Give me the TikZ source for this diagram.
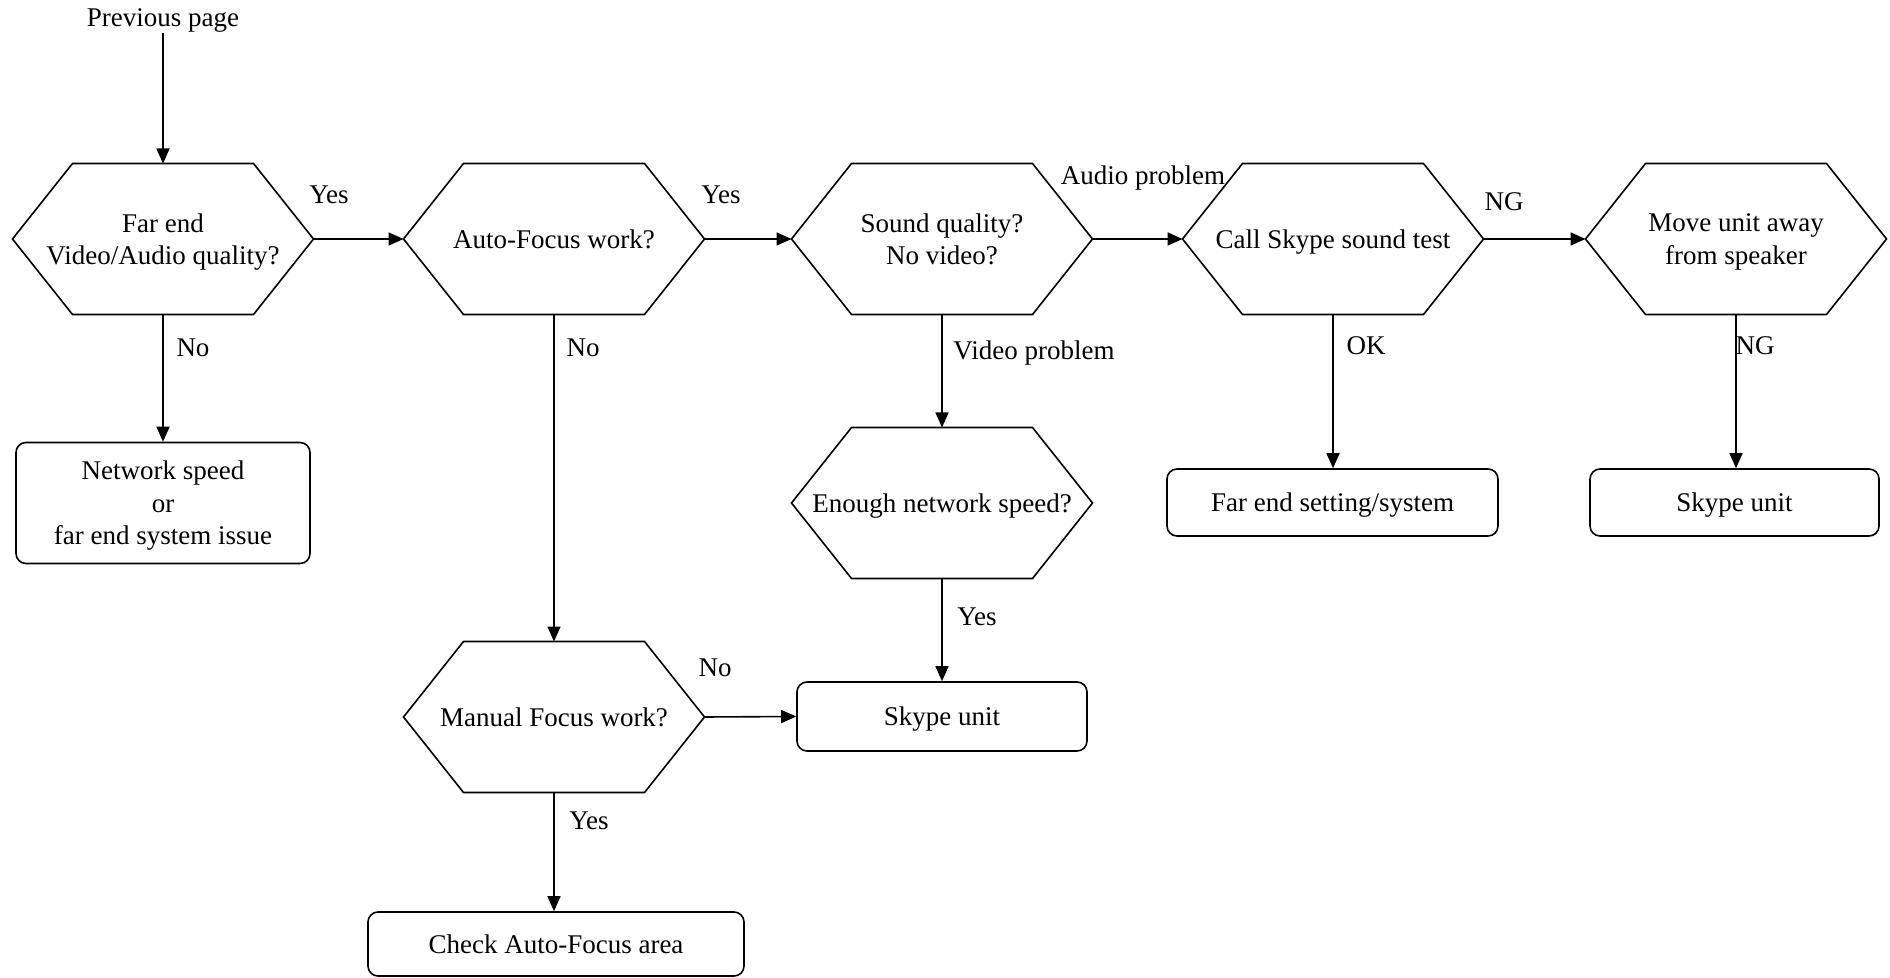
\documentclass[tikz,border=0pt]{standalone}
\usepackage{fontspec}
\setmainfont{Liberation Serif}
\newfontfamily\diagfont{Liberation Serif}
\usetikzlibrary{arrows.meta}
\begin{document}
\begin{tikzpicture}[x=0.5pt,y=-0.5pt,
  every node/.style={font=\diagfont\fontsize{13.5}{16.25}\selectfont, inner sep=0pt, text depth=0pt},
  hexbox/.style={minimum width=150.5pt, minimum height=75.5pt, align=center, outer sep=0pt},
  rbox/.style={draw, rounded corners=5pt, align=center, line width=0.8pt},
  hexline/.style={line width=0.8pt, line join=miter},
  conn/.style={line width=0.8pt, -{Triangle[length=7.5pt,width=6.5pt]}}
]
\useasboundingbox (0,0) rectangle (1890,978);

% decision hexagons
\node[inner sep=3pt] (prev) at (163,18) {Previous page};
\node[hexbox] (h1) at (163,239) {Far end\\Video/Audio quality?};
\node[hexbox] (h2) at (554,239) {Auto-Focus work?};
\node[hexbox] (h3) at (942,239) {Sound quality?\\No video?};
\node[hexbox] (h4) at (1333,239) {Call Skype sound test};
\node[hexbox] (h5) at (1736,239) {Move unit away\\from speaker};
\node[hexbox] (h6) at (942,503) {Enough network speed?};
\node[hexbox] (h7) at (554,717) {Manual Focus work?};

\foreach \n in {h1,h2,h3,h4,h5,h6,h7}
  \draw[hexline] ([xshift=30pt]\n.north west) -- ([xshift=-30pt]\n.north east) -- (\n.east)
    -- ([xshift=-30pt]\n.south east) -- ([xshift=30pt]\n.south west) -- (\n.west) -- cycle;

% result boxes
\node[rbox, minimum width=147pt, minimum height=60.5pt] (r1) at (163,503) {Network speed\\or\\far end system issue};
\node[rbox, minimum width=145pt, minimum height=34.5pt] (r2) at (942,716.5) {Skype unit};
\node[rbox, minimum width=188pt, minimum height=32pt] (r3) at (556,944) {Check Auto-Focus area};
\node[rbox, minimum width=165.5pt, minimum height=33.5pt] (r4) at (1332.5,502.5) {Far end setting/system};
\node[rbox, minimum width=144.5pt, minimum height=33.5pt] (r5) at (1734.5,502.5) {Skype unit};

% connectors
\draw[conn] (prev.south) -- (h1.north);
\draw[conn] (h1.east) -- (h2.west);
\draw[conn] (h1.south) -- (r1.north);
\draw[conn] (h2.east) -- (h3.west);
\draw[conn] (h2.south) -- (h7.north);
\draw[conn] (h3.east) -- (h4.west);
\draw[conn] (h3.south) -- (h6.north);
\draw[conn] (h6.south) -- (r2.north);
\draw[conn] (h7.east) -- (r2.west);
\draw[conn] (h7.south) -- (h7.south |- r3.north);
\draw[conn] (h4.east) -- (h5.west);
\draw[conn] (h4.south) -- (h4.south |- r4.north);
\draw[conn] (h5.south) -- (h5.south |- r5.north);

% labels
\node (l1) at (329,195) {Yes};
\node (l2) at (193,348) {No};
\node (l3) at (721,195) {Yes};
\node (l4) at (583,348) {No};
\node (l5) at (1143,175) {Audio problem};
\node (l6) at (1034,350) {Video problem};
\node (l7) at (977,617) {Yes};
\node (l8) at (715,668) {No};
\node (l9) at (589,821) {Yes};
\node (l10) at (1504,202) {NG};
\node (l11) at (1366,346) {OK};
\node (l12) at (1755,346) {NG};
\end{tikzpicture}
\end{document}
